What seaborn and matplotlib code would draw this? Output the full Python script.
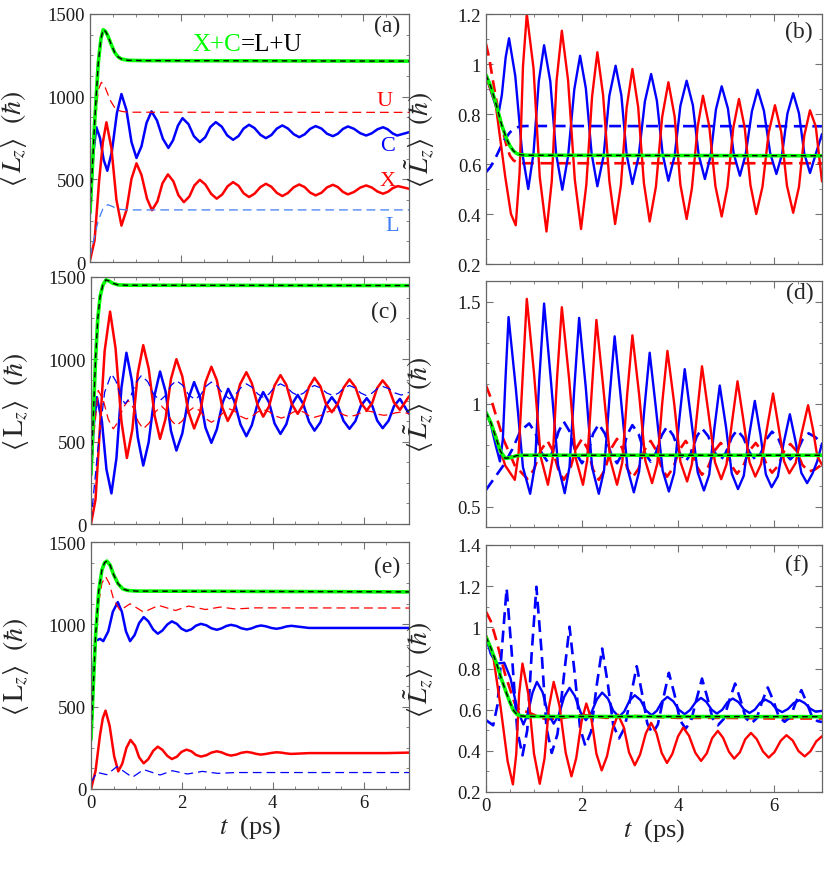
import matplotlib
matplotlib.use('Agg')
import matplotlib.pyplot as plt
import seaborn as sns
from matplotlib.ticker import MultipleLocator, FuncFormatter

# ---------------- data ----------------
# panel (a): <L_z> in units of hbar vs t (ps)
t_a_sum = [0, 0.05, 0.1, 0.18, 0.24, 0.29, 0.34, 0.39, 0.46, 0.54, 0.62, 0.69, 0.83, 1.2, 7.0]
a_sum = [300, 560, 835, 1200, 1350, 1405, 1395, 1369, 1320, 1268, 1240, 1228, 1220, 1218, 1215]
t_a_X = [0, 0.1, 0.2, 0.28, 0.36, 0.47, 0.58, 0.69, 0.80, 0.91, 1.02, 1.13, 1.25, 1.36, 1.48, 1.59,
         1.71, 1.83, 1.94, 2.06, 2.18, 2.29, 2.41, 2.53, 2.66, 2.78, 2.90, 3.02, 3.14, 3.26, 3.37,
         3.49, 3.61, 3.74, 3.86, 3.98, 4.10, 4.22, 4.34, 4.47, 4.59, 4.71, 4.83, 4.95, 5.08, 5.20,
         5.33, 5.44, 5.55, 5.66, 5.79, 5.93, 6.06, 6.18, 6.31, 6.43, 6.54, 6.65, 6.76, 7.0]
a_X = [10, 130, 490, 720, 845, 689, 376, 220, 314, 503, 597, 526, 384, 313, 367, 476,
       530, 488, 404, 362, 396, 463, 497, 469, 412, 383, 408, 458, 483, 461, 416,
       393, 413, 453, 473, 455, 418, 399, 417, 452, 469, 453, 420, 403, 419, 451,
       467, 453, 424, 409, 423, 450, 463, 451, 426, 413, 425, 448, 459, 443]
t_a_C = [0, 0.07, 0.14, 0.22, 0.30, 0.38, 0.48, 0.59, 0.69, 0.80, 0.91, 1.02, 1.13, 1.24, 1.35,
         1.47, 1.60, 1.72, 1.82, 1.93, 2.03, 2.16, 2.28, 2.41, 2.53, 2.64, 2.76, 2.89, 3.01, 3.14,
         3.26, 3.37, 3.49, 3.61, 3.74, 3.86, 3.98, 4.10, 4.22, 4.34, 4.47, 4.59, 4.71, 4.83, 4.95,
         5.08, 5.20, 5.33, 5.44, 5.55, 5.66, 5.79, 5.93, 6.06, 6.18, 6.31, 6.43, 6.53, 6.64, 6.74, 7.0]
a_C = [290, 650, 815, 749, 618, 552, 668, 900, 1016, 919, 726, 629, 700, 841, 911,
       856, 745, 690, 735, 825, 870, 834, 761, 725, 755, 816, 846, 819, 766, 739,
       762, 807, 830, 810, 769, 749, 768, 807, 826, 808, 773, 755, 772, 805, 822,
       807, 776, 761, 776, 805, 820, 806, 779, 765, 778, 803, 815, 803, 778, 765, 785]
t_a_U = [0, 0.1, 0.18, 0.25, 0.32, 0.39, 0.46, 0.54, 0.62, 0.69, 0.85, 7.0]
a_U = [300, 780, 1040, 1087, 1065, 1016, 970, 935, 918, 911, 906, 905]
t_a_L = [0, 0.08, 0.18, 0.28, 0.39, 0.5, 0.6, 0.8, 7.0]
a_L = [30, 130, 250, 320, 347, 335, 320, 315, 315]

# panel (b)
t_b_sum = [0, 0.1, 0.22, 0.32, 0.43, 0.5, 0.57, 0.64, 0.71, 0.85, 7.0]
b_sum = [0.956, 0.91, 0.833, 0.76, 0.70, 0.672, 0.653, 0.642, 0.637, 0.635, 0.633]
t_b_X = [0, 0.2, 0.4, 0.52, 0.62, 0.70, 0.77, 0.85, 0.99, 1.12, 1.26, 1.37, 1.47, 1.58, 1.71,
         1.85, 1.98, 2.09, 2.21, 2.32, 2.44, 2.57, 2.69, 2.81, 2.93, 3.05, 3.17, 3.29, 3.41, 3.54,
         3.67, 3.80, 3.93, 4.05, 4.18, 4.29, 4.41, 4.52, 4.65, 4.78, 4.91, 5.03, 5.15, 5.27, 5.39,
         5.51, 5.63, 5.76, 5.89, 6.02, 6.15, 6.27, 6.40, 6.52, 6.63, 6.75, 6.87, 7.0]
b_X = [0.95, 0.84, 0.55, 0.40, 0.355, 0.566, 0.989, 1.2, 0.983, 0.548, 0.33, 0.531, 0.932, 1.133, 0.935,
       0.538, 0.34, 0.517, 0.87, 1.047, 0.875, 0.532, 0.36, 0.515, 0.825, 0.98, 0.828, 0.523, 0.37, 0.509,
       0.788, 0.927, 0.79, 0.517, 0.38, 0.503, 0.75, 0.873, 0.752, 0.511, 0.39, 0.508, 0.743, 0.86, 0.745,
       0.515, 0.40, 0.509, 0.726, 0.835, 0.728, 0.513, 0.405, 0.508, 0.713, 0.815, 0.75, 0.53]
t_b_C = [0, 0.12, 0.26, 0.33, 0.41, 0.48, 0.61, 0.75, 0.88, 0.99, 1.10, 1.21, 1.34, 1.46, 1.59,
         1.71, 1.84, 1.96, 2.08, 2.20, 2.32, 2.45, 2.57, 2.70, 2.82, 2.93, 3.05, 3.18, 3.31, 3.44,
         3.56, 3.68, 3.80, 3.93, 4.05, 4.18, 4.31, 4.43, 4.56, 4.68, 4.79, 4.91, 5.04, 5.16, 5.29,
         5.41, 5.54, 5.66, 5.79, 5.92, 6.05, 6.17, 6.28, 6.40, 6.52, 6.63, 6.75, 6.87, 7.0]
b_C = [0.956, 0.88, 0.80, 0.876, 1.027, 1.103, 0.952, 0.651, 0.50, 0.644, 0.931, 1.075, 0.93, 0.642, 0.497,
       0.631, 0.899, 1.033, 0.903, 0.642, 0.511, 0.632, 0.873, 0.993, 0.875, 0.638, 0.52, 0.63, 0.85, 0.96,
       0.853, 0.64, 0.533, 0.633, 0.833, 0.933, 0.835, 0.638, 0.54, 0.633, 0.818, 0.911, 0.822, 0.642, 0.553,
       0.639, 0.811, 0.897, 0.813, 0.644, 0.56, 0.641, 0.802, 0.883, 0.803, 0.643, 0.564, 0.64, 0.72]
t_b_U = [0, 0.07, 0.15, 0.25, 0.36, 0.43, 0.5, 0.57, 0.64, 0.75, 7.0]
b_U = [1.08, 1.02, 0.927, 0.82, 0.727, 0.67, 0.633, 0.615, 0.607, 0.603, 0.603]
t_b_L = [0, 0.1, 0.22, 0.36, 0.5, 0.6, 0.71, 0.85, 7.0]
b_L = [0.567, 0.59, 0.633, 0.69, 0.727, 0.742, 0.751, 0.752, 0.751]

# panel (c)
t_c_sum = [0, 0.05, 0.1, 0.15, 0.2, 0.26, 0.33, 0.4, 0.48, 0.6, 0.8, 7.0]
c_sum = [300, 650, 1000, 1250, 1380, 1450, 1483, 1475, 1462, 1452, 1450, 1448]
t_c_X = [0, 0.1, 0.2, 0.3, 0.42, 0.54, 0.67, 0.79, 0.91, 1.03, 1.15, 1.27, 1.40, 1.52, 1.64,
         1.76, 1.88, 2.01, 2.14, 2.27, 2.40, 2.52, 2.65, 2.77, 2.89, 3.01, 3.15, 3.28, 3.42, 3.54,
         3.67, 3.79, 3.92, 4.04, 4.17, 4.30, 4.42, 4.55, 4.67, 4.80, 4.92, 5.05, 5.17, 5.30, 5.43,
         5.56, 5.69, 5.82, 5.94, 6.07, 6.19, 6.30, 6.42, 6.55, 6.67, 6.80, 7.0]
c_X = [0, 150, 600, 1050, 1290, 1068, 623, 401, 572, 915, 1086, 944, 659, 517, 638,
       880, 1001, 896, 685, 580, 674, 861, 955, 873, 708, 626, 700, 848, 922, 855,
       720, 652, 715, 841, 904, 845, 728, 669, 724, 833, 888, 836, 731, 679, 729,
       828, 878, 831, 736, 689, 735, 826, 872, 827, 738, 693, 775]
t_c_C = [0, 0.06, 0.13, 0.24, 0.34, 0.45, 0.56, 0.67, 0.78, 0.90, 1.03, 1.15, 1.27, 1.40, 1.52,
         1.64, 1.76, 1.88, 2.01, 2.14, 2.27, 2.40, 2.52, 2.65, 2.77, 2.90, 3.02, 3.15, 3.29, 3.42,
         3.54, 3.67, 3.79, 3.92, 4.04, 4.17, 4.30, 4.42, 4.55, 4.67, 4.80, 4.92, 5.05, 5.17, 5.30,
         5.43, 5.56, 5.69, 5.82, 5.94, 6.07, 6.19, 6.30, 6.42, 6.55, 6.67, 6.80, 7.0]
c_C = [300, 600, 770, 624, 332, 186, 400, 827, 1040, 869, 526, 355, 498, 783, 926,
       806, 566, 446, 550, 758, 862, 770, 585, 493, 575, 739, 821, 749, 605, 533,
       600, 734, 801, 738, 611, 547, 606, 725, 784, 730, 621, 567, 618, 719, 770,
       722, 626, 578, 625, 718, 764, 719, 628, 582, 627, 716, 760, 670]
t_c_U = [0, 0.07, 0.16, 0.27, 0.38, 0.49, 0.60, 0.71, 0.82, 0.93, 1.04, 1.15, 1.28, 1.42, 1.55,
         1.66, 1.77, 1.88, 2.01, 2.14, 2.27, 2.40, 2.52, 2.65, 2.78, 2.92, 3.05, 3.17, 3.30, 3.42,
         3.54, 3.67, 3.79, 3.92, 4.06, 4.19, 4.31, 4.44, 4.56, 4.68, 4.80, 4.92, 5.06, 5.19, 5.33,
         5.45, 5.57, 5.69, 5.83, 5.96, 6.10, 6.22, 6.33, 6.45, 6.58, 6.70, 6.83, 7.0]
c_U = [300, 560, 811, 753, 636, 578, 621, 707, 750, 707, 621, 578, 613, 682, 716,
       687, 628, 598, 626, 682, 710, 687, 641, 618, 638, 679, 699, 684, 653, 638,
       652, 681, 695, 682, 656, 643, 655, 678, 690, 680, 658, 648, 659, 680, 690,
       681, 662, 652, 661, 678, 686, 680, 666, 660, 665, 675, 680, 670]
t_c_L = [0, 0.15, 0.3, 0.45, 0.55, 0.65, 0.75, 0.87, 0.99, 1.11, 1.25, 1.38, 1.52, 1.64, 1.76,
         1.88, 2.02, 2.15, 2.29, 2.41, 2.53, 2.65, 2.78, 2.92, 3.05, 3.17, 3.30, 3.42, 3.54, 3.67,
         3.79, 3.92, 4.04, 4.17, 4.30, 4.43, 4.56, 4.68, 4.80, 4.92, 5.06, 5.19, 5.33, 5.45, 5.57,
         5.69, 5.81, 5.94, 6.06, 6.18, 6.30, 6.42, 6.56, 6.69, 6.83, 7.0]
c_L = [20, 450, 800, 912, 867, 776, 730, 773, 859, 902, 864, 788, 750, 780, 841,
       871, 842, 785, 756, 783, 836, 862, 837, 786, 760, 783, 828, 851, 831, 790,
       770, 790, 831, 851, 833, 798, 780, 795, 826, 841, 826, 795, 780, 795, 826,
       841, 826, 795, 780, 794, 821, 835, 822, 796, 783, 800]

# panel (d)
t_d_sum = [0, 0.1, 0.2, 0.3, 0.4, 0.5, 0.64, 0.8, 7.0]
d_sum = [0.959, 0.91, 0.84, 0.77, 0.735, 0.738, 0.748, 0.75, 0.75]
t_d_X = [0, 0.2, 0.4, 0.6, 0.68, 0.77, 0.85, 1.00, 1.14, 1.29, 1.39, 1.48, 1.58, 1.73, 1.87,
         2.02, 2.11, 2.21, 2.30, 2.44, 2.59, 2.73, 2.84, 2.94, 3.05, 3.19, 3.32, 3.46, 3.57, 3.67,
         3.78, 3.92, 4.05, 4.19, 4.29, 4.40, 4.50, 4.63, 4.77, 4.90, 5.01, 5.13, 5.24, 5.36, 5.49,
         5.61, 5.73, 5.86, 5.98, 6.09, 6.21, 6.32, 6.45, 6.58, 6.71, 6.81, 6.90, 7.0]
d_X = [0.96, 0.85, 0.70, 0.63, 0.762, 1.16, 1.513, 1.15, 0.742, 0.606, 0.736, 1.126, 1.472, 1.126, 0.736,
       0.606, 0.727, 1.088, 1.41, 1.088, 0.727, 0.606, 0.715, 1.043, 1.335, 1.047, 0.722, 0.614, 0.711, 1.001,
       1.259, 1.004, 0.718, 0.622, 0.706, 0.959, 1.184, 0.964, 0.716, 0.633, 0.705, 0.92, 1.111, 0.925, 0.716,
       0.646, 0.707, 0.889, 1.051, 0.895, 0.72, 0.662, 0.712, 0.861, 0.994, 0.878, 0.747, 0.703]
t_d_C = [0, 0.1, 0.2, 0.29, 0.35, 0.41, 0.47, 0.62, 0.77, 0.92, 1.02, 1.11, 1.21, 1.35, 1.50,
         1.64, 1.74, 1.84, 1.94, 2.08, 2.21, 2.35, 2.46, 2.57, 2.68, 2.81, 2.95, 3.08, 3.19, 3.30,
         3.41, 3.54, 3.68, 3.81, 3.92, 4.03, 4.14, 4.27, 4.41, 4.54, 4.65, 4.76, 4.87, 5.00, 5.12,
         5.25, 5.37, 5.48, 5.60, 5.72, 5.83, 5.95, 6.08, 6.20, 6.33, 6.45, 6.57, 6.69, 6.80, 6.90, 7.0]
d_C = [0.96, 0.90, 0.80, 0.72, 0.826, 1.142, 1.424, 1.079, 0.691, 0.562, 0.701, 1.119, 1.49, 1.12, 0.704,
       0.565, 0.693, 1.078, 1.42, 1.077, 0.691, 0.562, 0.677, 1.023, 1.33, 1.026, 0.683, 0.569, 0.671, 0.978,
       1.25, 0.979, 0.675, 0.573, 0.663, 0.931, 1.17, 0.933, 0.667, 0.578, 0.655, 0.885, 1.09, 0.888, 0.661,
       0.585, 0.65, 0.843, 1.015, 0.847, 0.657, 0.594, 0.647, 0.808, 0.95, 0.816, 0.664, 0.614, 0.66, 0.72, 0.808]
t_d_U = [0, 0.1, 0.2, 0.37, 0.6, 0.86, 1.0, 1.14, 1.28, 1.39, 1.51, 1.62, 1.75, 1.87, 2.0,
         2.12, 2.23, 2.35, 2.48, 2.60, 2.73, 2.84, 2.94, 3.05, 3.18, 3.30, 3.43, 3.54, 3.66, 3.77,
         3.90, 4.03, 4.16, 4.27, 4.39, 4.5, 4.63, 4.76, 4.89, 5.0, 5.12, 5.23, 5.36, 5.49, 5.62,
         5.73, 5.85, 5.96, 6.09, 6.21, 6.34, 6.47, 6.59, 6.72, 6.85, 7.0]
d_U = [1.09, 1.03, 0.95, 0.824, 0.70, 0.635, 0.681, 0.774, 0.82, 0.773, 0.678, 0.63, 0.68, 0.78, 0.83,
       0.78, 0.68, 0.63, 0.68, 0.78, 0.83, 0.783, 0.688, 0.64, 0.685, 0.775, 0.82, 0.776, 0.689, 0.645,
       0.689, 0.776, 0.82, 0.779, 0.696, 0.655, 0.694, 0.771, 0.81, 0.773, 0.698, 0.66, 0.698, 0.773, 0.81,
       0.774, 0.701, 0.665, 0.70, 0.77, 0.805, 0.771, 0.704, 0.67, 0.68, 0.705]
t_d_L = [0, 0.37, 0.55, 0.72, 0.9, 1.03, 1.15, 1.28, 1.39, 1.51, 1.62, 1.75, 1.87, 2.0, 2.12,
         2.23, 2.35, 2.48, 2.60, 2.73, 2.84, 2.94, 3.05, 3.18, 3.30, 3.43, 3.54, 3.66, 3.77, 3.90,
         4.03, 4.16, 4.27, 4.39, 4.5, 4.63, 4.76, 4.89, 5.0, 5.12, 5.23, 5.36, 5.49, 5.62, 5.73,
         5.85, 5.96, 6.09, 6.21, 6.34, 6.47, 6.59, 6.72, 6.85, 7.0]
d_L = [0.581, 0.703, 0.78, 0.87, 0.905, 0.859, 0.765, 0.719, 0.768, 0.865, 0.914, 0.863, 0.762, 0.711, 0.759,
       0.854, 0.902, 0.854, 0.759, 0.711, 0.758, 0.85, 0.897, 0.853, 0.764, 0.719, 0.762, 0.847, 0.889, 0.847,
       0.762, 0.719, 0.76, 0.841, 0.881, 0.843, 0.765, 0.727, 0.764, 0.837, 0.873, 0.837, 0.764, 0.727, 0.762,
       0.831, 0.865, 0.831, 0.764, 0.73, 0.762, 0.825, 0.857, 0.84, 0.81]

# panel (e)
t_e_sum = [0, 0.05, 0.1, 0.17, 0.24, 0.3, 0.35, 0.42, 0.5, 0.6, 0.7, 0.8, 1.0, 7.0]
e_sum = [300, 620, 930, 1200, 1330, 1375, 1384, 1360, 1300, 1245, 1215, 1206, 1202, 1197]
t_e_X = [0, 0.1, 0.2, 0.26, 0.32, 0.41, 0.51, 0.6, 0.69, 0.78, 0.87, 0.97, 1.06, 1.16, 1.26,
         1.37, 1.47, 1.57, 1.68, 1.78, 1.89, 1.99, 2.10, 2.21, 2.31, 2.42, 2.54, 2.65, 2.77, 2.87,
         2.98, 3.08, 3.20, 3.31, 3.43, 3.53, 3.64, 3.74, 3.85, 3.97, 4.08, 4.19, 4.30, 4.41, 4.8,
         6.5, 7.0]
e_X = [0, 110, 330, 430, 476, 384, 199, 107, 155, 250, 298, 263, 192, 156, 181,
       232, 257, 238, 201, 182, 196, 225, 239, 229, 207, 197, 205, 221, 229, 223,
       210, 203, 209, 220, 225, 221, 213, 209, 213, 219, 223, 221, 216, 213, 218,
       218, 221]
t_e_C = [0, 0.05, 0.1, 0.2, 0.27, 0.38, 0.48, 0.59, 0.68, 0.77, 0.86, 0.96, 1.06, 1.16, 1.26,
         1.37, 1.47, 1.57, 1.68, 1.78, 1.89, 1.99, 2.10, 2.21, 2.31, 2.42, 2.54, 2.65, 2.77, 2.87,
         2.98, 3.08, 3.20, 3.31, 3.43, 3.53, 3.64, 3.74, 3.85, 3.97, 4.08, 4.19, 4.30, 4.41, 4.8, 7.0]
e_C = [300, 700, 900, 912, 898, 957, 1076, 1135, 1076, 957, 898, 935, 1008, 1044, 1019,
       968, 943, 962, 999, 1018, 1003, 974, 959, 970, 992, 1003, 994, 976, 967, 975,
       990, 997, 990, 976, 969, 975, 987, 993, 988, 978, 973, 978, 987, 991, 978, 978]
t_e_U = [0, 0.05, 0.1, 0.17, 0.24, 0.32, 0.4, 0.5, 0.64, 0.86, 1.16, 1.49, 1.86, 2.15,
         2.52, 2.85, 3.18, 3.6, 7.0]
e_U = [300, 600, 870, 1130, 1250, 1290, 1250, 1150, 1084, 1125, 1074, 1115, 1084, 1111,
       1090, 1105, 1093, 1100, 1099]
t_e_L = [0, 0.13, 0.35, 0.57, 0.91, 1.16, 1.52, 1.79, 2.12, 2.45, 2.79, 3.2, 7.0]
e_L = [40, 101, 87, 136, 71, 118, 85, 111, 91, 107, 95, 100, 100]

# panel (f)
t_f_sum = [0, 0.1, 0.22, 0.32, 0.43, 0.5, 0.57, 0.64, 0.72, 0.85, 7.0]
f_sum = [0.954, 0.90, 0.824, 0.75, 0.678, 0.635, 0.597, 0.578, 0.57, 0.567, 0.566]
t_f_X = [0, 0.15, 0.3, 0.45, 0.56, 0.63, 0.69, 0.76, 0.88, 1.0, 1.12, 1.22, 1.31, 1.41, 1.53,
         1.66, 1.78, 1.88, 1.99, 2.09, 2.20, 2.30, 2.41, 2.52, 2.64, 2.75, 2.87, 2.98, 3.10, 3.21,
         3.33, 3.44, 3.55, 3.66, 3.77, 3.88, 4.0, 4.11, 4.23, 4.36, 4.48, 4.60, 4.71, 4.83, 4.94,
         5.06, 5.17, 5.29, 5.40, 5.52, 5.64, 5.77, 5.89, 6.01, 6.14, 6.26, 6.39, 6.51, 6.64, 6.76,
         6.88, 7.0]
f_X = [0.962, 0.86, 0.62, 0.35, 0.237, 0.384, 0.677, 0.824, 0.678, 0.386, 0.24, 0.364, 0.611, 0.735, 0.62,
       0.391, 0.276, 0.365, 0.542, 0.63, 0.549, 0.386, 0.305, 0.373, 0.508, 0.576, 0.515, 0.392, 0.33, 0.382,
       0.485, 0.536, 0.487, 0.39, 0.341, 0.384, 0.47, 0.513, 0.473, 0.391, 0.351, 0.388, 0.461, 0.497, 0.463,
       0.396, 0.362, 0.393, 0.456, 0.487, 0.457, 0.397, 0.367, 0.394, 0.449, 0.476, 0.45, 0.399, 0.373, 0.398,
       0.446, 0.471]
t_f_C = [0, 0.1, 0.22, 0.38, 0.51, 0.65, 0.78, 0.87, 0.97, 1.06, 1.18, 1.29, 1.41, 1.52, 1.63,
         1.74, 1.85, 1.97, 2.08, 2.19, 2.31, 2.42, 2.54, 2.65, 2.77, 2.88, 2.99, 3.10, 3.22, 3.33,
         3.45, 3.56, 3.67, 3.78, 3.90, 4.02, 4.14, 4.25, 4.37, 4.48, 4.59, 4.70, 4.81, 4.92, 5.03,
         5.14, 5.26, 5.37, 5.49, 5.60, 5.71, 5.82, 5.94, 6.05, 6.17, 6.29, 6.41, 6.53, 6.64, 6.76,
         6.87, 7.0]
f_C = [0.95, 0.87, 0.824, 0.828, 0.753, 0.603, 0.528, 0.58, 0.683, 0.735, 0.684, 0.583, 0.532, 0.576, 0.663,
       0.706, 0.667, 0.588, 0.549, 0.583, 0.65, 0.683, 0.654, 0.595, 0.565, 0.591, 0.644, 0.67, 0.646, 0.597,
       0.573, 0.595, 0.64, 0.662, 0.641, 0.599, 0.578, 0.598, 0.637, 0.657, 0.638, 0.60, 0.581, 0.599, 0.636,
       0.654, 0.637, 0.602, 0.584, 0.60, 0.633, 0.649, 0.634, 0.603, 0.588, 0.603, 0.632, 0.646, 0.632, 0.604,
       0.59, 0.594]
t_f_U = [0, 0.1, 0.2, 0.3, 0.4, 0.5, 0.6, 0.71, 0.85, 1.0, 1.25, 1.6, 2.0, 2.5, 3.0, 4.0, 5.0, 6.0, 7.0]
f_U = [1.076, 1.03, 0.95, 0.86, 0.77, 0.70, 0.63, 0.593, 0.59, 0.575, 0.553, 0.56, 0.575, 0.56,
       0.57, 0.56, 0.56, 0.557, 0.557]
t_f_L = [0, 0.15, 0.24, 0.34, 0.43, 0.54, 0.65, 0.76, 0.86, 0.95, 1.05, 1.16, 1.26, 1.37, 1.49,
         1.62, 1.74, 1.85, 1.96, 2.07, 2.19, 2.30, 2.42, 2.54, 2.65, 2.77, 2.89, 3.02, 3.14, 3.25,
         3.36, 3.47, 3.58, 3.70, 3.81, 3.93, 4.04, 4.16, 4.27, 4.39, 4.50, 4.61, 4.72, 4.83, 4.95,
         5.07, 5.19, 5.30, 5.41, 5.52, 5.64, 5.75, 5.87, 5.99, 6.10, 6.22, 6.34, 6.45, 6.57, 6.68,
         6.79, 6.9, 7.0]
f_L = [0.549, 0.524, 0.624, 0.923, 1.189, 0.865, 0.50, 0.378, 0.501, 0.869, 1.197, 0.874, 0.511, 0.39, 0.482,
       0.758, 1.003, 0.771, 0.511, 0.424, 0.495, 0.708, 0.897, 0.722, 0.526, 0.46, 0.513, 0.671, 0.811, 0.68,
       0.533, 0.484, 0.528, 0.661, 0.779, 0.671, 0.549, 0.508, 0.544, 0.654, 0.751, 0.66, 0.558, 0.524, 0.554,
       0.646, 0.727, 0.649, 0.561, 0.532, 0.558, 0.638, 0.708, 0.641, 0.566, 0.541, 0.564, 0.633, 0.695, 0.635,
       0.567, 0.545, 0.54]

panel_tags = ['(a)', '(b)', '(c)', '(d)', '(e)', '(f)']

# ---------------- style ----------------
sns.set_style('ticks')
plt.rcParams['font.family'] = ['Liberation Serif', 'DejaVu Serif']
plt.rcParams['mathtext.fontset'] = 'stix'

RED, BLUE, GREEN = '#ff0000', '#0000ff', '#00ff00'
LBLUE = '#3f7cf5'

fig = plt.figure(figsize=(8.31, 8.70), dpi=100)

W, H = 831, 870
def rect(l, r, t, b):
    return [l / W, 1 - b / H, (r - l) / W, (b - t) / H]

ax_a = fig.add_axes(rect(90, 409, 15, 263))
ax_b = fig.add_axes(rect(486, 822, 15, 265))
ax_c = fig.add_axes(rect(91, 409, 278, 525))
ax_d = fig.add_axes(rect(486, 822, 282, 528))
ax_e = fig.add_axes(rect(91, 409, 543, 790))
ax_f = fig.add_axes(rect(486, 822, 546, 793))


def draw(ax, t, v, color, lw, ls='-'):
    sns.lineplot(x=t, y=v, ax=ax, color=color, lw=lw, linestyle=ls,
                 estimator=None, sort=False)


def panel(ax, X, C, U, L, S, right, lcol=BLUE):
    if right:
        draw(ax, *U, RED, 1.9, (0, (4.5, 2.5)))
        draw(ax, *L, BLUE, 1.9, (0, (4.5, 2.5)))
        draw(ax, *C, BLUE, 1.7)
        draw(ax, *X, RED, 1.7)
    else:
        draw(ax, *C, BLUE, 1.8)
        draw(ax, *X, RED, 1.8)
        draw(ax, *U, RED, 0.9, (0, (7, 4)))
        draw(ax, *L, lcol, 0.9, (0, (7, 4)))
    draw(ax, *S, GREEN, 2.6)
    draw(ax, *S, 'black', 1.0, (0, (4, 3)))


def style(ax, ylim, yticks, yminor, xlab):
    ax.set_xlim(0, 7)
    ax.set_ylim(*ylim)
    ax.set_xticks([0, 2, 4, 6])
    ax.xaxis.set_minor_locator(MultipleLocator(0.5))
    ax.set_yticks(yticks)
    ax.yaxis.set_minor_locator(MultipleLocator(yminor))
    ax.yaxis.set_major_formatter(FuncFormatter(lambda v, p: f'{v:g}'))
    ax.tick_params(which='both', direction='in', top=True, right=True,
                   color='0.45', labelcolor='0.1', labelsize=13.5)
    ax.tick_params(which='major', length=5, width=0.8)
    ax.tick_params(which='minor', length=2.5, width=0.6)
    for s in ax.spines.values():
        s.set_color('0.4')
        s.set_linewidth(0.9)
    if xlab:
        ax.set_xlabel(r'$t$  (ps)', fontsize=19, labelpad=2)
    else:
        ax.tick_params(labelbottom=False)


panel(ax_a, (t_a_X, a_X), (t_a_C, a_C), (t_a_U, a_U), (t_a_L, a_L), (t_a_sum, a_sum), False, LBLUE)
panel(ax_b, (t_b_X, b_X), (t_b_C, b_C), (t_b_U, b_U), (t_b_L, b_L), (t_b_sum, b_sum), True)
panel(ax_c, (t_c_X, c_X), (t_c_C, c_C), (t_c_U, c_U), (t_c_L, c_L), (t_c_sum, c_sum), False)
panel(ax_d, (t_d_X, d_X), (t_d_C, d_C), (t_d_U, d_U), (t_d_L, d_L), (t_d_sum, d_sum), True)
panel(ax_e, (t_e_X, e_X), (t_e_C, e_C), (t_e_U, e_U), (t_e_L, e_L), (t_e_sum, e_sum), False)
panel(ax_f, (t_f_X, f_X), (t_f_C, f_C), (t_f_U, f_U), (t_f_L, f_L), (t_f_sum, f_sum), True)

lz_ticks = [0, 500, 1000, 1500]
for ax in (ax_a, ax_c, ax_e):
    style(ax, (0, 1500), lz_ticks, 125, ax is ax_e)
style(ax_b, (0.2, 1.2), [0.2, 0.4, 0.6, 0.8, 1.0, 1.2], 0.1, False)
style(ax_d, (0.4, 1.6), [0.5, 1.0, 1.5], 0.1, False)
style(ax_f, (0.2, 1.4), [0.2, 0.4, 0.6, 0.8, 1.0, 1.2, 1.4], 0.1, True)

ax_a.set_ylabel(r'$\langle\, L_z \rangle\ \ (\hbar)$', fontsize=20)
ax_c.set_ylabel(r'$\langle\, \mathrm{L}_z \rangle\ \ (\hbar)$', fontsize=20)
ax_e.set_ylabel(r'$\langle\, \mathrm{L}_z \rangle\ \ (\hbar)$', fontsize=20)
for ax in (ax_b, ax_d, ax_f):
    ax.set_ylabel(r'$\langle\, \tilde{L}_z \rangle\ \ (\hbar)$', fontsize=20)
for ax in (ax_a, ax_c, ax_e):
    ax.yaxis.set_label_coords(-0.19, 0.5)
ax_b.yaxis.set_label_coords(-0.145, 0.5)
ax_d.yaxis.set_label_coords(-0.15, 0.5)
ax_f.yaxis.set_label_coords(-0.15, 0.5)

tag_pos = [(0.93, 0.955), (0.93, 0.93), (0.922, 0.862), (0.934, 0.955), (0.93, 0.903), (0.926, 0.923)]
for ax, tag, (px, py) in zip([ax_a, ax_b, ax_c, ax_d, ax_e, ax_f], panel_tags, tag_pos):
    ax.text(px, py, tag, transform=ax.transAxes, ha='center', va='center', fontsize=17)

# labels inside (a)
ax_a.text(3.31, 1318, 'X+C', color=GREEN, fontsize=18, ha='right', va='center')
ax_a.text(3.31, 1318, '=L+U', color='black', fontsize=18, ha='left', va='center')
ax_a.text(6.47, 974, 'U', color=RED, fontsize=16, ha='center', va='center')
ax_a.text(6.52, 702, 'C', color=BLUE, fontsize=16, ha='center', va='center')
ax_a.text(6.52, 490, 'X', color=RED, fontsize=16, ha='center', va='center')
ax_a.text(6.63, 218, 'L', color=LBLUE, fontsize=16, ha='center', va='center')

fig.savefig('out.png', dpi=100)
